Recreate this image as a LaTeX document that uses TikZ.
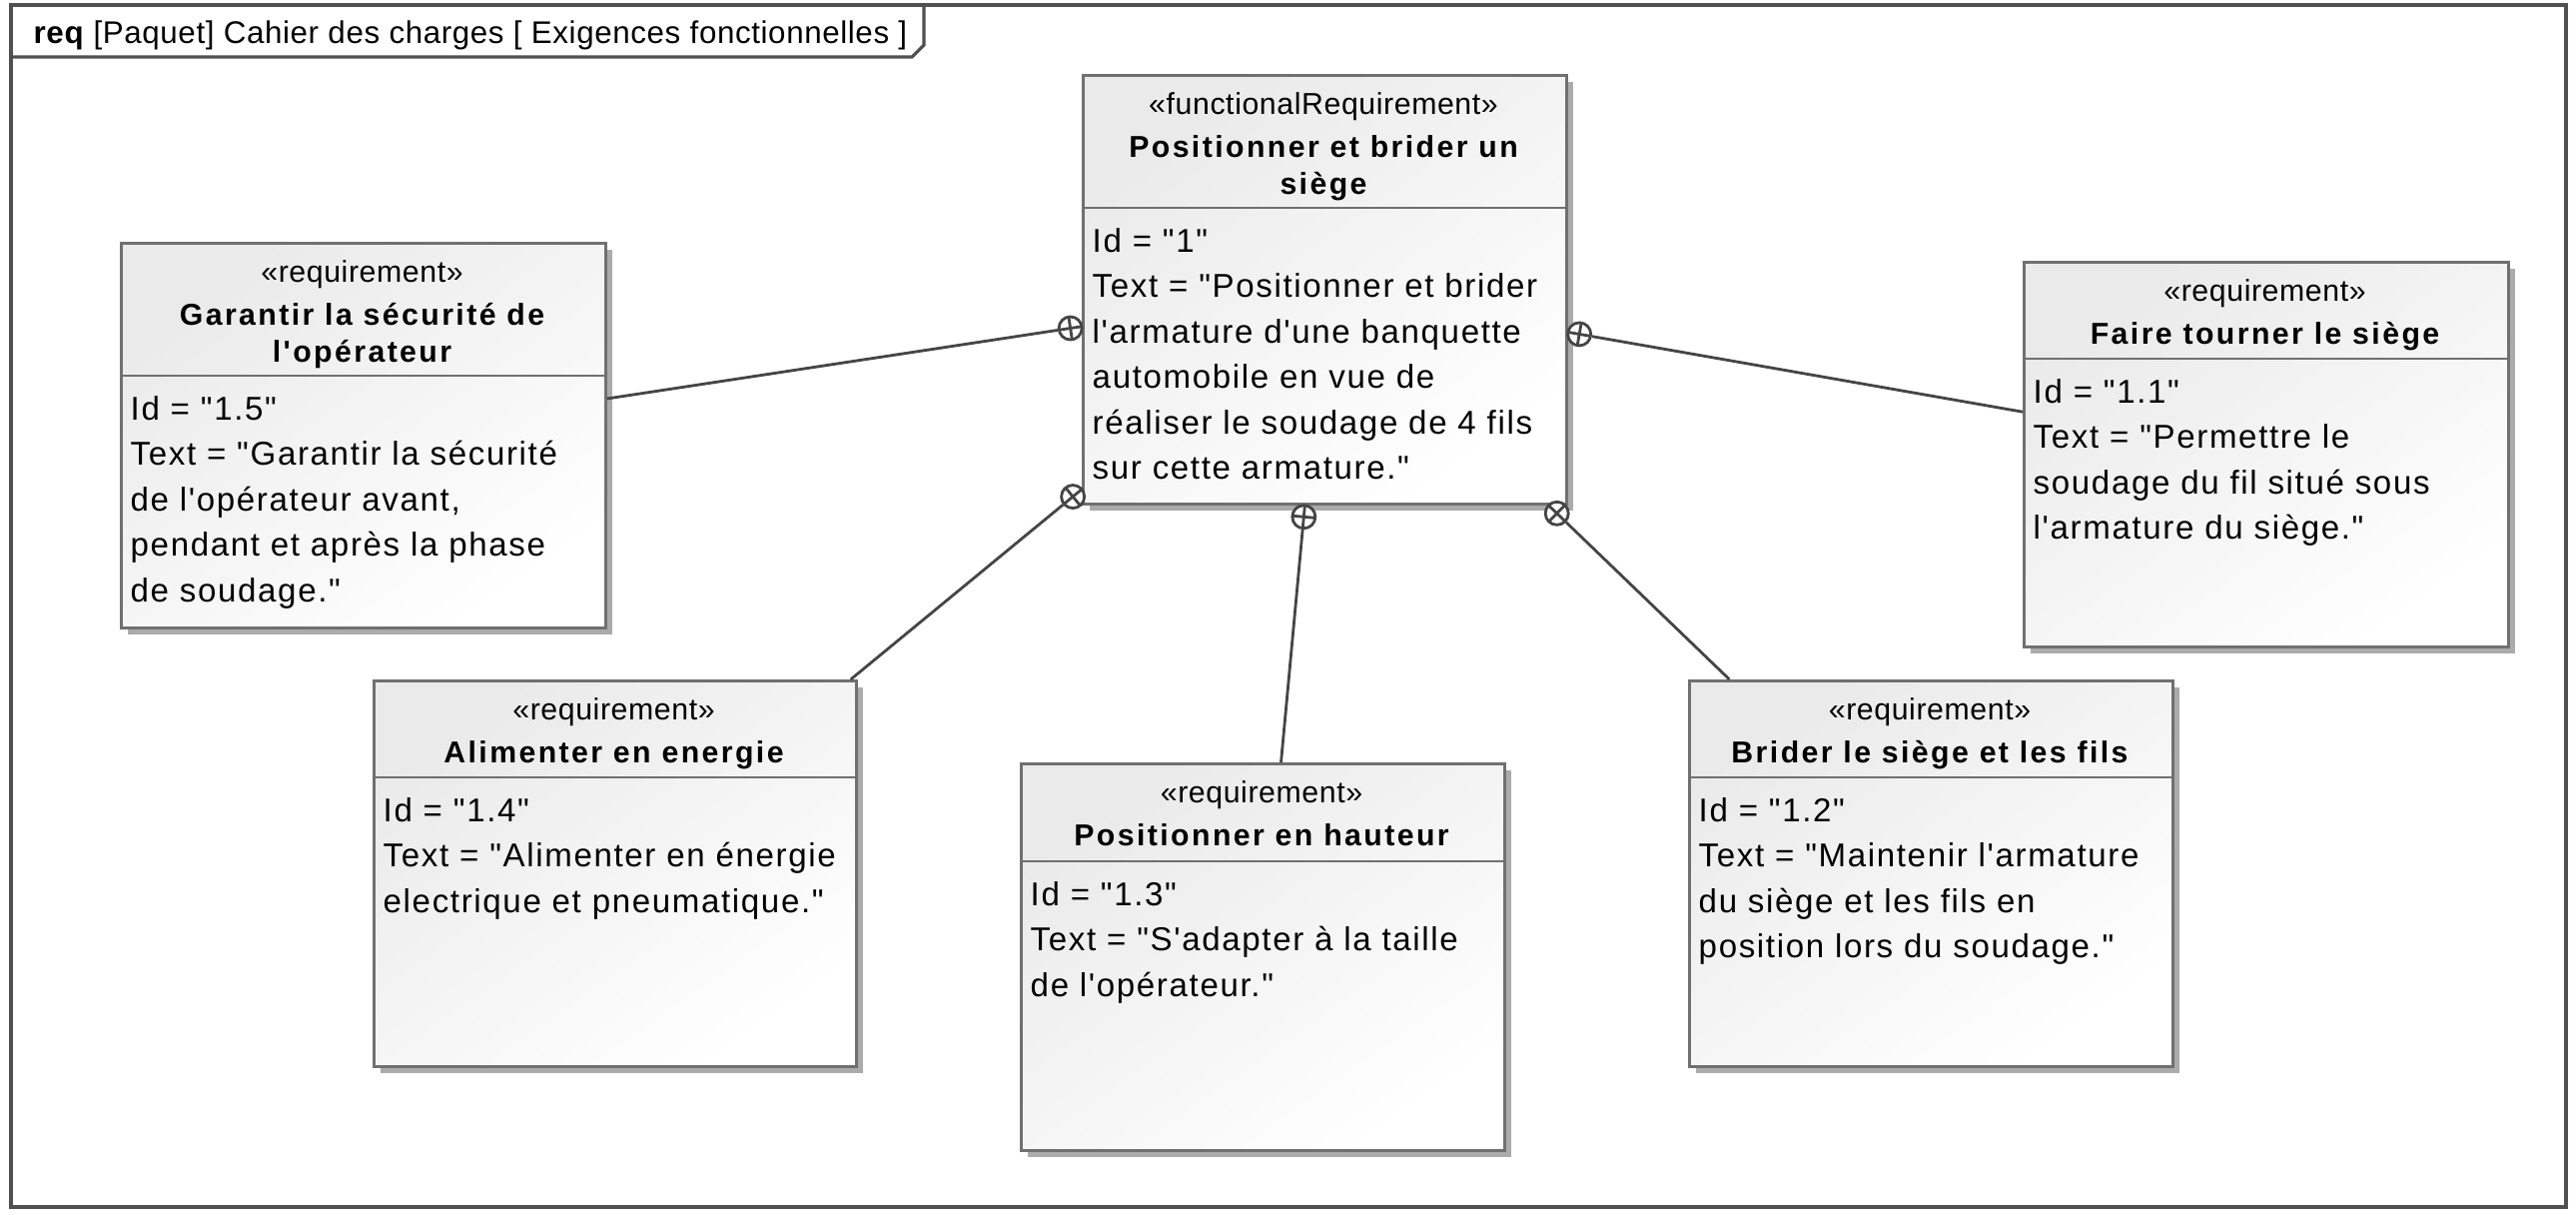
\documentclass[tikz,border=0pt]{standalone}
\usepackage{fontspec}
\setmainfont{Liberation Sans}
\newfontfamily\bodyf{Liberation Sans}[LetterSpace=5]
\newfontfamily\headf{Liberation Sans}[LetterSpace=8]
\newfontfamily\sterf{Liberation Sans}[LetterSpace=2]
\newfontfamily\tabf{Liberation Sans}[LetterSpace=2]
\usetikzlibrary{calc}
\definecolor{bordc}{HTML}{707070}
\definecolor{shadc}{HTML}{ABABAB}
\definecolor{linec}{HTML}{454545}
\definecolor{fillA}{HTML}{EAEAEA}
\definecolor{framec}{HTML}{505050}
\tikzset{
  reqshape/.style={draw=bordc, line width=0.8pt, top color=fillA, bottom color=white, shading angle=35, inner sep=0pt},
  divline/.style={draw=bordc, line width=0.8pt},
  conn/.style={draw=linec, line width=0.8pt},
  contc/.style={circle, draw=linec, fill=white, line width=0.8pt, minimum size=0.23cm, inner sep=0pt},
  framel/.style={draw=framec, line width=0.9pt},
  txt/.style={inner sep=0pt, text=black}
}
% name, left, top, width, height, divider offset, stereotype, title, body
\newcommand\reqbox[9]{%
  \fill[shadc] (#2+8,#3+8) rectangle (#2+#4+8,#3+#5+8);
  \node[reqshape, anchor=north west, minimum width=#4*0.01cm, minimum height=#5*0.01cm] (#1) at (#2,#3) {};
  \draw[divline] ($(#1.north west)+(0,#6)$) -- ($(#1.north east)+(0,#6)$);
  \node[txt, anchor=base] (#1s) at (#2+#4/2,#3+40) {\sterf\fontsize{8.6}{10}\selectfont «#7»};
  \node[txt, anchor=base] (#1t) at (#2+#4/2,#3+83) {\headf\bfseries\fontsize{8.6}{10.6}\selectfont\begin{tabular}[t]{@{}c@{}}#8\end{tabular}};
  \node[txt, anchor=base west] (#1b) at (#2+10,#3+#6+44) {\bodyf\fontsize{9.4}{12.95}\selectfont\begin{tabular}[t]{@{}l@{}}#9\end{tabular}};
}
% parent, child, name
\newcommand\contain[3]{%
  \path (#1) -- (#2) coordinate[pos=0] (#3p);
  \node[contc] (#3) at ($(#3p)!0.115cm!(#2)$) {};
  \draw[conn] (#3) -- (#2);
  \draw[conn] ($(#3)!0.115cm!(#2)$) -- ($(#3)!-0.115cm!(#2)$)
              ($(#3)!0.115cm!90:(#2)$) -- ($(#3)!0.115cm!-90:(#2)$);
}
\begin{document}
\begin{tikzpicture}[x=0.01cm, y=-0.01cm]
\useasboundingbox (0,0) rectangle (2579,1215);
\fill[white] (0,0) rectangle (2579,1215);
% frame
\draw[framel] (11,5) rectangle (2569,1208);
\draw[framel] (11,57) -- (913,57) -- (925,45) -- (925,5);
\node[txt, anchor=base west] (ttl) at (33,44) {\tabf\fontsize{8.9}{10}\selectfont\textbf{req} [Paquet] Cahier des charges [ Exigences fonctionnelles ]};

\reqbox{c}{1083}{74}{484}{429}{134}{functionalRequirement}{Positionner et brider un\\siège}{Id = "1"\\Text = "Positionner et brider\\l'armature d'une banquette\\automobile en vue de\\réaliser le soudage de 4 fils\\sur cette armature."}
\reqbox{g}{120}{242}{485}{385}{134}{requirement}{Garantir la sécurité de\\l'opérateur}{Id = "1.5"\\Text = "Garantir la sécurité\\de l'opérateur avant,\\pendant et après la phase\\de soudage."}
\reqbox{f}{2025}{261}{485}{385}{98}{requirement}{Faire tourner le siège}{Id = "1.1"\\Text = "Permettre le\\soudage du fil situé sous\\l'armature du siège."}
\reqbox{a}{373}{680}{483}{386}{98}{requirement}{Alimenter en energie}{Id = "1.4"\\Text = "Alimenter en énergie\\electrique et pneumatique."}
\reqbox{h}{1021}{763}{484}{387}{99}{requirement}{Positionner en hauteur}{Id = "1.3"\\Text = "S'adapter à la taille\\de l'opérateur."}
\reqbox{b}{1690}{680}{484}{386}{98}{requirement}{Brider le siège et les fils}{Id = "1.2"\\Text = "Maintenir l'armature\\du siège et les fils en\\position lors du soudage."}

\contain{c}{g}{og}
\contain{c}{f}{of}
\contain{c}{a}{oa}
\contain{c}{h}{oh}
\contain{c}{b}{ob}
\end{tikzpicture}
\end{document}
